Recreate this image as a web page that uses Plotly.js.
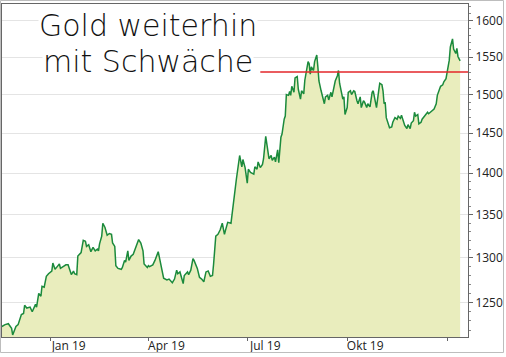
<!DOCTYPE html>
<html>
<head>
<meta charset="utf-8">
<script src="https://cdn.plot.ly/plotly-3.0.1.min.js"></script>
<style>
html,body{margin:0;padding:0;background:#fff;}
#chart{width:506px;height:357px;}
</style>
</head>
<body>
<div id="chart"></div>
<script>
// ---- data ----
const dates = [
'2018-11-17','2018-11-20','2018-11-23','2018-11-26','2018-11-27','2018-11-30','2018-12-02','2018-12-05','2018-12-07','2018-12-08','2018-12-10','2018-12-13','2018-12-15','2018-12-18','2018-12-19','2018-12-21','2018-12-23','2018-12-24','2018-12-26','2018-12-28','2018-12-30',
'2019-01-02','2019-01-03','2019-01-05','2019-01-07','2019-01-09','2019-01-10','2019-01-12','2019-01-15','2019-01-17','2019-01-20','2019-01-22','2019-01-23','2019-01-25','2019-01-26','2019-01-29','2019-01-31',
'2019-02-02','2019-02-03','2019-02-05','2019-02-07','2019-02-09','2019-02-11','2019-02-13','2019-02-14','2019-02-15','2019-02-17','2019-02-18','2019-02-20','2019-02-22','2019-02-24','2019-02-26','2019-02-27',
'2019-03-01','2019-03-02','2019-03-04','2019-03-07','2019-03-08','2019-03-10','2019-03-11','2019-03-13','2019-03-14','2019-03-16','2019-03-18','2019-03-20','2019-03-21','2019-03-23','2019-03-25','2019-03-27','2019-03-28','2019-03-31',
'2019-04-01','2019-04-02','2019-04-05','2019-04-07','2019-04-10','2019-04-12','2019-04-13','2019-04-15','2019-04-18','2019-04-20','2019-04-23','2019-04-25','2019-04-27','2019-04-28','2019-04-30',
'2019-05-03','2019-05-04','2019-05-07','2019-05-08','2019-05-10','2019-05-12','2019-05-13','2019-05-16','2019-05-18','2019-05-20','2019-05-22','2019-05-24','2019-05-26','2019-05-28','2019-05-30','2019-05-31',
'2019-06-02','2019-06-04','2019-06-06','2019-06-08','2019-06-10','2019-06-11','2019-06-13','2019-06-16','2019-06-17','2019-06-19','2019-06-21','2019-06-24','2019-06-26','2019-06-27','2019-06-29',
'2019-07-01','2019-07-02','2019-07-04','2019-07-07','2019-07-08','2019-07-10','2019-07-11','2019-07-13','2019-07-15','2019-07-16','2019-07-18','2019-07-20','2019-07-21','2019-07-23','2019-07-24','2019-07-26','2019-07-27','2019-07-29','2019-07-30',
'2019-08-01','2019-08-02','2019-08-04','2019-08-05','2019-08-06','2019-08-08','2019-08-09','2019-08-10','2019-08-11','2019-08-13','2019-08-14','2019-08-16','2019-08-17','2019-08-19','2019-08-20','2019-08-22','2019-08-23','2019-08-24','2019-08-26','2019-08-27','2019-08-28','2019-08-29','2019-08-31',
'2019-09-01','2019-09-03','2019-09-04','2019-09-05','2019-09-07','2019-09-08','2019-09-10','2019-09-11','2019-09-13','2019-09-14','2019-09-16','2019-09-17','2019-09-19','2019-09-20','2019-09-22','2019-09-23','2019-09-24','2019-09-25','2019-09-27','2019-09-28','2019-09-29',
'2019-10-01','2019-10-02','2019-10-04','2019-10-05','2019-10-07','2019-10-08','2019-10-10','2019-10-11','2019-10-13','2019-10-14','2019-10-16','2019-10-17','2019-10-19','2019-10-20','2019-10-22','2019-10-24','2019-10-25','2019-10-27','2019-10-28','2019-10-30','2019-10-31',
'2019-11-02','2019-11-03','2019-11-04','2019-11-05','2019-11-06','2019-11-08','2019-11-09','2019-11-11','2019-11-12','2019-11-14','2019-11-16','2019-11-17','2019-11-19','2019-11-20','2019-11-22','2019-11-23','2019-11-25','2019-11-26','2019-11-28','2019-11-29',
'2019-12-01','2019-12-02','2019-12-03','2019-12-05','2019-12-06','2019-12-08','2019-12-09','2019-12-11','2019-12-12','2019-12-14','2019-12-15','2019-12-17','2019-12-18','2019-12-20','2019-12-22','2019-12-23','2019-12-25','2019-12-26','2019-12-28','2019-12-29','2019-12-31',
'2020-01-01','2020-01-03','2020-01-04','2020-01-06','2020-01-07','2020-01-09','2020-01-10','2020-01-11','2020-01-13'
];
const prices = [
1224,1226,1227,1222,1215,1224,1226,1237,1238,1247,1244,1245,1240,1248,1245,1260,1257,1268,1267,1279,1282,
1285,1294,1287,1290,1293,1288,1290,1292,1292,1281,1285,1282,1281,1302,1306,1320,
1319,1313,1315,1307,1312,1308,1310,1308,1316,1325,1340,1335,1326,1328,1327,1317,
1313,1291,1288,1287,1289,1297,1295,1308,1297,1302,1304,1310,1313,1321,1317,1308,1293,1289,
1291,1290,1292,1297,1307,1293,1289,1277,1275,1276,1272,1276,1286,1282,1284,
1271,1280,1284,1281,1286,1299,1297,1288,1278,1276,1273,1284,1285,1279,1280,1293,
1325,1327,1332,1340,1327,1332,1341,1340,1351,1376,1393,1422,1408,1417,1407,
1388,1405,1401,1399,1408,1405,1414,1407,1411,1418,1446,1425,1418,1422,1416,1420,1414,1429,1413,
1445,1449,1468,1472,1500,1499,1504,1499,1511,1503,1522,1524,1507,1494,1505,1501,1519,1527,1544,1541,1527,1537,1532,
1544,1553,1537,1518,1505,1498,1488,1497,1499,1493,1503,1497,1513,1518,1525,1532,1515,1507,1494,1497,1474,
1483,1503,1505,1500,1505,1504,1492,1488,1497,1483,1492,1490,1483,1488,1484,1503,1505,1492,1483,1505,1515,
1513,1505,1488,1490,1470,1460,1457,1458,1464,1470,1468,1472,1469,1473,1464,1460,1456,1461,1456,1463,
1466,1477,1472,1474,1462,1464,1468,1472,1474,1477,1475,1477,1478,1481,1488,1499,1507,1511,1513,1517,1521,
1529,1546,1564,1575,1561,1555,1562,1551,1545
];
const resistanceDates = ['2019-07-13', '2020-01-20 06:00'];
const resistanceLevel = [1530, 1530];
const xTickVals = ['2019-01-01','2019-04-01','2019-07-01','2019-10-01','2020-01-01'];
const xTickText = ['Jan 19','Apr 19','Jul 19','Okt 19',''];
const yTickVals = [1250,1300,1350,1400,1450,1500,1550,1600];
const yTickText = ['1250','1300','1350','1400','1450','1500','1550','1600'];
const titleLines = ['Gold weiterhin', 'mit Schwäche'];

const traces = [
  {
    x: dates, y: prices, type: 'scatter', mode: 'lines',
    line: {color: '#1b8a3c', width: 1.5},
    fill: 'tozeroy', fillcolor: '#e9edbd',
    hoverinfo: 'skip'
  },
  {
    x: resistanceDates, y: resistanceLevel, type: 'scatter', mode: 'lines',
    line: {color: '#e3262a', width: 1.5},
    hoverinfo: 'skip'
  }
];

const W = 506, H = 357, L = 2, R = 38, T = 4, B = 20;
const pw = W - L - R, ph = H - T - B;
function px2paperX(p){ return (p - L) / pw; }
function px2paperY(p){ return (H - B - p) / ph; }

const layout = {
  width: W, height: H,
  margin: {l: L, r: R, t: T, b: B, pad: 0},
  paper_bgcolor: '#ffffff', plot_bgcolor: '#ffffff',
  showlegend: false, hovermode: false,
  font: {family: 'Open Sans, sans-serif', size: 12, color: '#222'},
  xaxis: {
    type: 'date',
    range: ['2018-11-17 04:00', '2020-01-20 06:00'],
    tickmode: 'array', tickvals: xTickVals, ticktext: xTickText,
    ticks: 'outside', ticklen: 3, tickcolor: '#666',
    ticklabelshift: 18, ticklabelstandoff: -5,
    showline: true, linecolor: '#666', linewidth: 1, mirror: true,
    showgrid: false, zeroline: false,
    tickfont: {family: 'Open Sans, sans-serif', size: 12, color: '#222'}
  },
  yaxis: {
    type: 'log', side: 'right',
    range: [Math.log10(1212.8), Math.log10(1624)],
    tickmode: 'array', tickvals: yTickVals, ticktext: yTickText,
    ticks: 'outside', ticklen: 4, tickcolor: '#666',
    showline: true, linecolor: '#666', linewidth: 1, mirror: true,
    showgrid: true, gridcolor: '#e4e4e4', gridwidth: 1,
    zeroline: false,
    minor: {dtick: 'L10', ticks: 'outside', ticklen: 2, tickcolor: '#888', showgrid: false},
    tickfont: {family: 'Open Sans, sans-serif', size: 12, color: '#222'}
  },
  annotations: [
    {
      text: titleLines[0], xref: 'paper', yref: 'paper',
      x: px2paperX(148), y: px2paperY(25), xanchor: 'center', yanchor: 'middle',
      showarrow: false, bgcolor: '#ffffff', borderpad: 0,
      font: {family: 'DejaVu Sans', size: 30, color: '#111', weight: 300}
    },
    {
      text: titleLines[1], xref: 'paper', yref: 'paper',
      x: px2paperX(148), y: px2paperY(62), xanchor: 'center', yanchor: 'middle',
      showarrow: false, bgcolor: '#ffffff', borderpad: 0,
      font: {family: 'DejaVu Sans', size: 30, color: '#111', weight: 300}
    }
  ],
  shapes: [
    {
      type: 'rect', xref: 'paper', yref: 'paper', layer: 'above',
      x0: px2paperX(0.5), x1: px2paperX(503.5), y0: px2paperY(352.5), y1: px2paperY(0.5),
      line: {color: '#bdbdbd', width: 1}, fillcolor: 'rgba(0,0,0,0)'
    }
  ]
};

Plotly.newPlot('chart', traces, layout, {displayModeBar: false, staticPlot: true});
</script>
</body>
</html>
